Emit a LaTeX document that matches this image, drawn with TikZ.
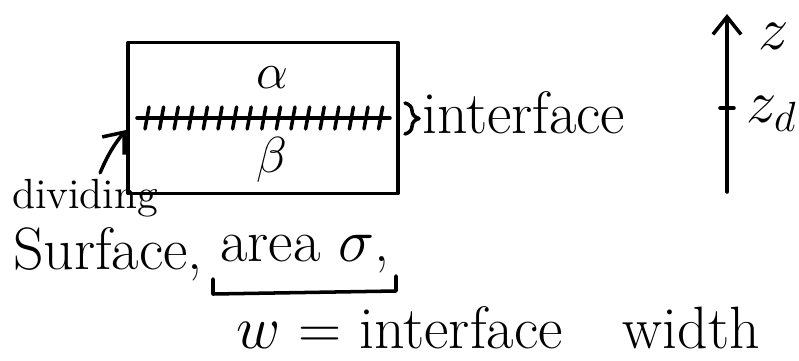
\documentclass[tikz,border=0pt]{standalone}
\usepackage{amsmath}
\usepackage{tikz}
\usetikzlibrary{
  arrows.meta,
  positioning,
  calc,
  decorations.pathreplacing
}

\begin{document}
\begin{tikzpicture}[x=0.01cm, y=-0.01cm,
  hand/.style={line width=1pt, line cap=round, line join=round},
  lbl/.style={font=\fontsize{17}{20}\selectfont, inner sep=1pt},
  tip/.style={hand, -{Straight Barb[length=5pt, width=8pt]}}
]
  \useasboundingbox (0,0) rectangle (799,360);

  % The two phases
  \node[draw, hand, minimum width=2.7cm, minimum height=1.51cm] (box) at (263,118) {};
  \node[font=\Large] (alpha) at (272,78) {$\alpha$};
  \node[font=\Large] (beta) at (272,160) {$\beta$};

  % Dividing surface and its marks
  \coordinate (dl) at (137,118);
  \coordinate (dr) at (390,118);
  \draw[hand] (dl) -- (dr);
  \foreach \x in {0,...,16}
    \draw[hand] ($(dl)+(8+14.6*\x,11)$) -- ++(4,-22);

  % Interface brace
  \coordinate (bt) at (405,103);
  \coordinate (bb) at (405,134);
  \draw[hand, decorate, decoration={brace, amplitude=4pt}] (bt) -- (bb);
  \node[lbl, anchor=west] (iface) at (418,113) {interface};

  % Label of the dividing surface
  \node[font=\fontsize{12}{14}\selectfont, anchor=west, inner sep=1pt] (divid) at (8,198) {dividing};
  \node[lbl] (surf) at (108,254) {Surface,};
  \node[lbl] (area) at (305,254) {area $\sigma$,};
  \coordinate (dtip) at (126,130);
  \draw[tip] ($(divid.north)+(15,-2)$) to[bend left=8] (dtip);

  % Bracket under the area
  \draw[hand] (213,279) -- (213,294) -- (396,291) -- (396,276);

  % Width of the interface
  \node[lbl, anchor=west] (width) at (232,328) {$w$ = interface\hspace{0.6cm}width};

  % z axis
  \coordinate (zbot) at (727,192);
  \coordinate (ztop) at (727,14);
  \draw[tip] (zbot) -- (ztop);
  \coordinate (zd) at (727,108);
  \draw[hand] ([xshift=-0.07cm]zd) -- ([xshift=0.07cm]zd);
  \node[font=\fontsize{18}{22}\selectfont] (zlab) at (774,36) {$z$};
  \node[font=\fontsize{18}{22}\selectfont] (zdlab) at (772,114) {$z_d$};
\end{tikzpicture}
\end{document}
